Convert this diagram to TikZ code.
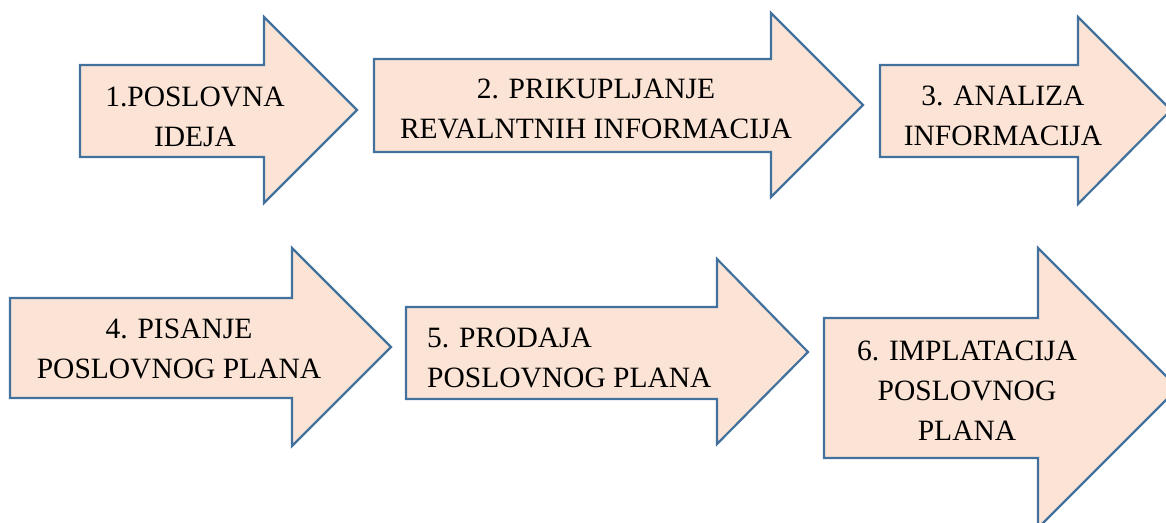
\documentclass[tikz,border=0pt]{standalone}
\usepackage{fontspec}
\setmainfont{Liberation Serif}
\definecolor{arrfill}{HTML}{FBE4D5}
\definecolor{arrline}{HTML}{41719C}
\tikzset{
  bigarrow/.style={fill=arrfill, draw=arrline, line width=2.2pt, line join=miter},
  lbl/.style={font=\fontsize{29.5}{40}\selectfont, text=black, inner sep=0pt, anchor=base}
}
\begin{document}
\begin{tikzpicture}[x=1pt,y=-1pt]
\useasboundingbox (0,0) rectangle (1166,522);
% arrow 1
\draw[bigarrow] (80,65) -- (264,65) -- (264,17) -- (357,110) -- (264,203) -- (264,157) -- (80,157) -- cycle;
% arrow 2
\draw[bigarrow] (374,59) -- (771,59) -- (771,13) -- (863,105) -- (771,197) -- (771,152) -- (374,152) -- cycle;
% arrow 3
\draw[bigarrow] (880,65) -- (1078,65) -- (1078,17) -- (1171,110) -- (1078,204) -- (1078,157) -- (880,157) -- cycle;
% arrow 4
\draw[bigarrow] (10,298) -- (292,298) -- (292,248) -- (391,347) -- (292,446) -- (292,398) -- (10,398) -- cycle;
% arrow 5
\draw[bigarrow] (406,307) -- (717,307) -- (717,259) -- (808,352) -- (717,444) -- (717,399) -- (406,399) -- cycle;
% arrow 6
\draw[bigarrow] (824,318) -- (1038,318) -- (1038,248) -- (1178,388) -- (1038,528) -- (1038,458) -- (824,458) -- cycle;

\node[lbl, align=center] (t1) at (195,146) {1.POSLOVNA\\IDEJA};
\node[lbl, align=center] (t2) at (596,138) {2. PRIKUPLJANJE\\REVALNTNIH INFORMACIJA};
\node[lbl, align=center] (t3) at (1003,145) {3. ANALIZA\\INFORMACIJA};
\node[lbl, align=center] (t4) at (179,378) {4. PISANJE\\POSLOVNOG PLANA};
\node[lbl, align=left, anchor=base west] (t5) at (427,387) {5. PRODAJA\\POSLOVNOG PLANA};
\node[lbl, align=center] (t6) at (967,440) {6. IMPLATACIJA\\POSLOVNOG\\PLANA};
\end{tikzpicture}
\end{document}
